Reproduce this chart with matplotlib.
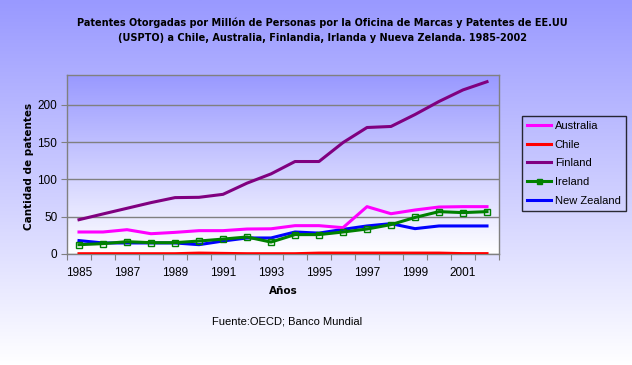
import matplotlib.pyplot as plt
import numpy as np

# data
years = list(range(1985, 2003))
australia = [29.5, 29.5, 32.6, 27.2, 29.0, 31.3, 31.3, 33.5, 33.8, 38.0,
             38.0, 35.3, 63.5, 54.0, 59.0, 63.0, 63.5, 63.5]
chile = [0.4, 0.4, 0.4, 0.4, 0.4, 1.2, 0.8, 0.4, 0.4, 0.4,
         1.2, 1.2, 1.2, 1.2, 1.2, 1.2, 0.5, 0.5]
finland = [46.0, 53.7, 61.3, 68.9, 75.6, 76.0, 80.0, 95.0, 107.4, 124.0,
           124.0, 149.4, 169.6, 171.0, 187.0, 204.5, 220.0, 231.0]
ireland = [12.5, 13.9, 16.5, 15.2, 15.2, 17.4, 20.0, 22.8, 16.0, 26.0,
           26.0, 29.5, 33.5, 39.4, 49.0, 56.8, 55.5, 56.8]
new_zealand = [18.0, 14.8, 14.8, 14.8, 14.8, 12.5, 17.4, 21.5, 21.5, 29.5,
               28.0, 33.0, 37.6, 40.7, 34.0, 37.6, 37.6, 37.6]
year_labels = [str(y) for y in range(1985, 2002, 2)]

plt.rcParams['font.family'] = ['Liberation Sans', 'DejaVu Sans']

W, H = 632, 365
fig = plt.figure(figsize=(W / 100, H / 100), dpi=100)

# figure background gradient
bg = fig.add_axes([0, 0, 1, 1], zorder=-10)
grad = np.linspace(0, 1, 256).reshape(-1, 1)
top = np.array([153, 153, 255]) / 255
img = top[None, None, :] * (1 - grad[:, :, None]) + np.ones(3)[None, None, :] * grad[:, :, None]
bg.imshow(img, aspect='auto', extent=[0, 1, 0, 1], origin='upper')
bg.axis('off')

# plot area: x 67..499, y 75..254 (pixels from top)
x0, x1, y0, y1 = 67, 499, 75, 254
ax = fig.add_axes([x0 / W, 1 - y1 / H, (x1 - x0) / W, (y1 - y0) / H])
ax.patch.set_visible(False)
ax.imshow(img, aspect='auto', extent=[0, 1, 0, 1], origin='upper',
          transform=ax.transAxes, zorder=0)

lw = 2.2
ax.plot(years, australia, color='#FF00FF', lw=lw, label='Australia', zorder=3)
ax.plot(years, chile, color='#FF0000', lw=lw, label='Chile', zorder=3)
ax.plot(years, finland, color='#800080', lw=lw, label='Finland', zorder=3)
ax.plot(years, ireland, color='#008000', lw=lw, marker='s', markersize=4,
        markerfacecolor='none', markeredgecolor='#008000', markeredgewidth=1,
        label='Ireland', zorder=3)
ax.plot(years, new_zealand, color='#0000FF', lw=lw, label='New Zealand', zorder=2.9)

ax.set_xlim(1984.5, 2002.5)
ax.set_ylim(0, 240)
ax.set_yticks([0, 50, 100, 150, 200])
ax.yaxis.grid(True, color='#808080', lw=1)
ax.set_axisbelow(True)
for s in ax.spines.values():
    s.set_color('#808080')
    s.set_linewidth(1)

ax.set_xticks(np.arange(1984.5, 2003, 1))
ax.set_xticklabels([])
ax.set_xticks(range(1985, 2002, 2), minor=True)
ax.set_xticklabels(year_labels, minor=True)
ax.tick_params(axis='x', which='major', length=4, color='#808080', direction='out')
ax.tick_params(axis='x', which='minor', length=0, pad=9, labelsize=8.5)
ax.tick_params(axis='y', length=4, color='#808080', labelsize=8.5, pad=3)

leg = ax.legend(loc='upper left', bbox_to_anchor=((522 - x0) / (x1 - x0), 1 - (116 - y0) / (y1 - y0)),
                frameon=True, fancybox=False, fontsize=8, handlelength=2.2,
                handletextpad=0.3, labelspacing=0.78, borderpad=0.45,
                borderaxespad=0, markerscale=0.9)
leg.get_frame().set_edgecolor('black')
leg.get_frame().set_facecolor('none')
leg.get_frame().set_linewidth(1)
for h in leg.legend_handles:
    h.set_markerfacecolor('#008000')

fig.text(322 / W, 1 - 23 / H,
         'Patentes Otorgadas por Millón de Personas por la Oficina de Marcas y Patentes de EE.UU',
         ha='center', va='center', fontsize=7, fontweight='bold', family='DejaVu Sans')
fig.text(322 / W, 1 - 38 / H,
         '(USPTO) a Chile, Australia, Finlandia, Irlanda y Nueva Zelanda. 1985-2002',
         ha='center', va='center', fontsize=7, fontweight='bold', family='DejaVu Sans')
fig.text(29 / W, 1 - 166 / H, 'Cantidad de patentes', rotation=90,
         ha='center', va='center', fontsize=7.5, fontweight='bold', family='DejaVu Sans')
fig.text(283 / W, 1 - 291 / H, 'Años', ha='center', va='center',
         fontsize=7.5, fontweight='bold', family='DejaVu Sans')
fig.text(212 / W, 1 - 322 / H, 'Fuente:OECD; Banco Mundial', ha='left',
         va='center', fontsize=8)

fig.savefig('out.png', dpi=100)
